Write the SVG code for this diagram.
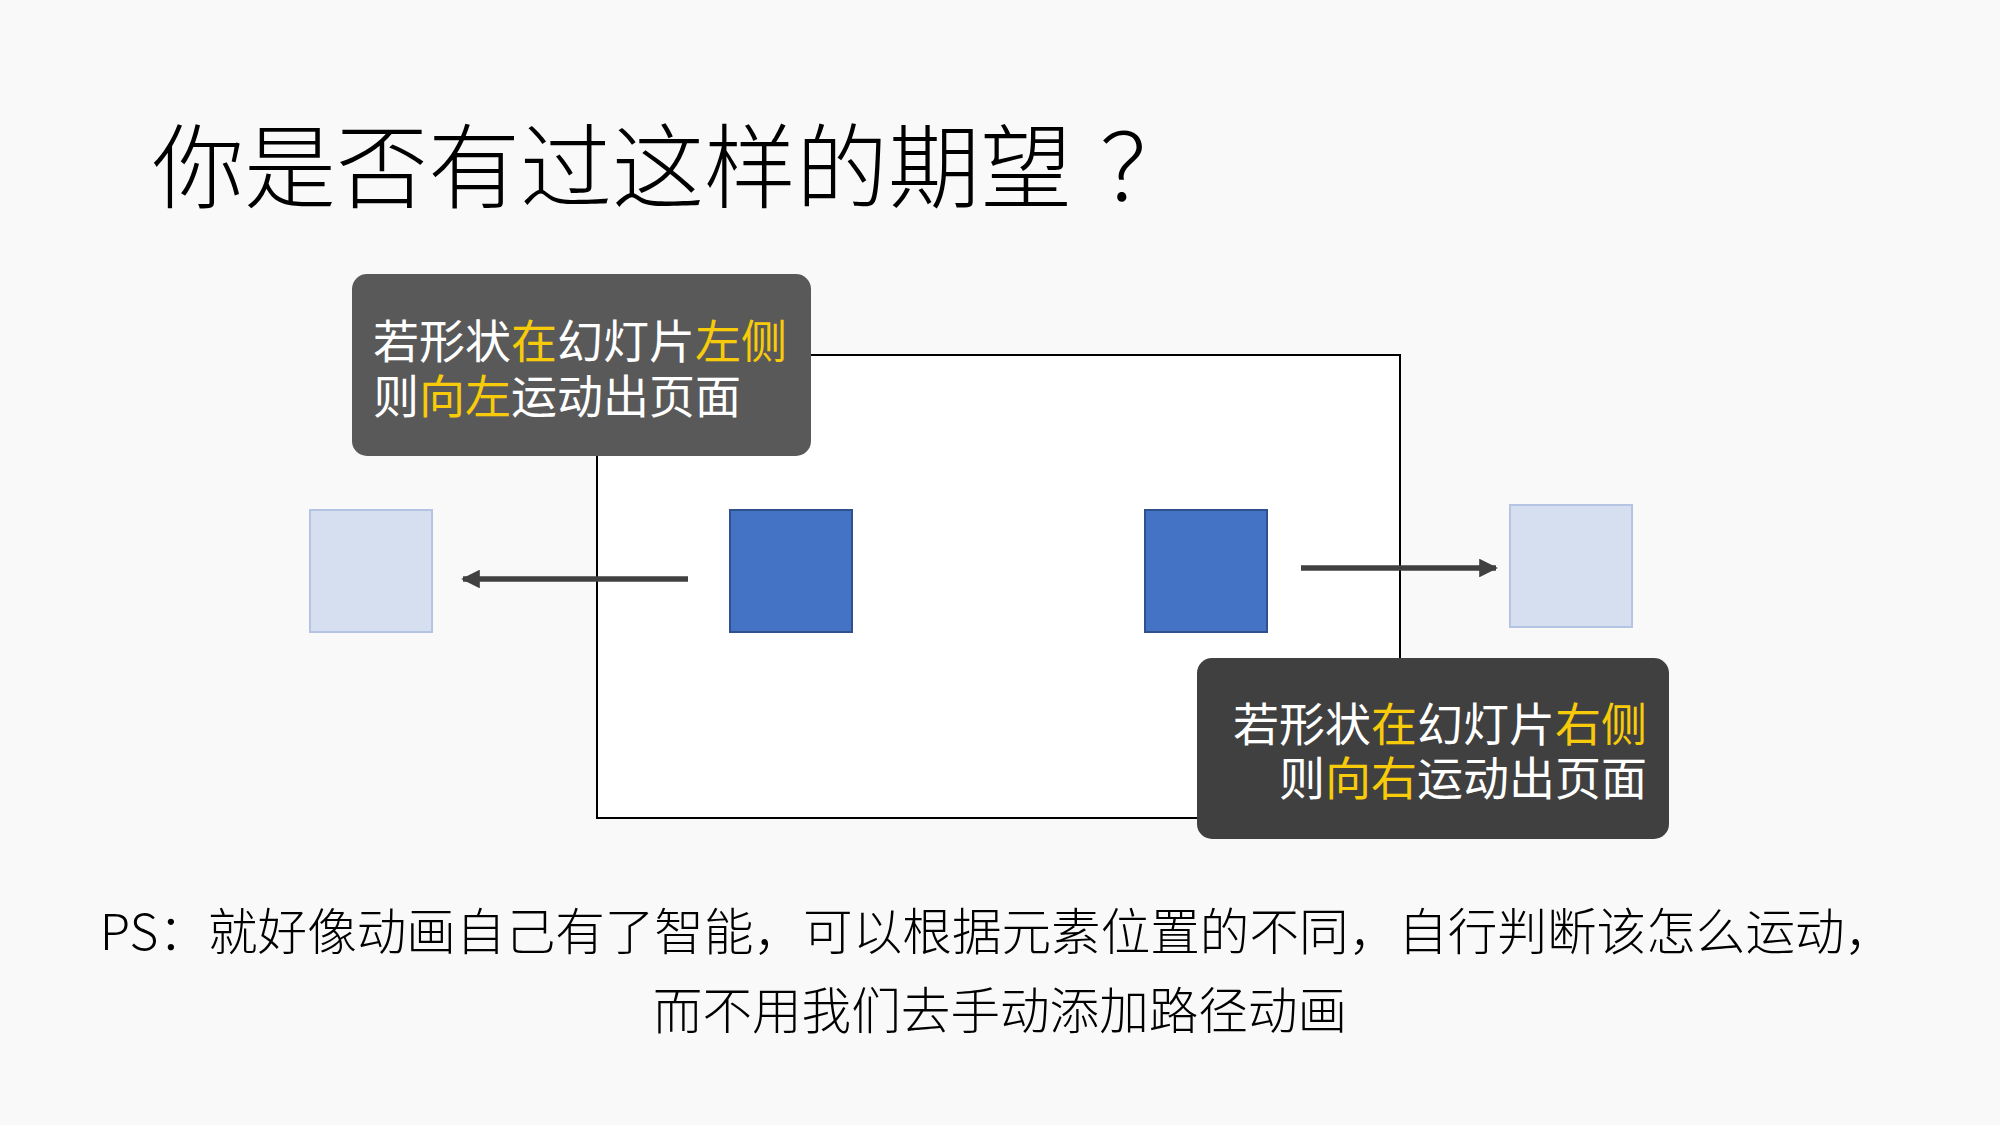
<svg xmlns="http://www.w3.org/2000/svg" width="2000" height="1125" viewBox="0 0 2000 1125">
  <style>
    text { font-family: "Noto Sans CJK SC", "Liberation Sans", sans-serif; }
    .title { font-size: 92px; font-weight: 300; fill: #000000; }
    .lbl { font-size: 46px; font-weight: 400; fill: #FFFFFF; }
    .hl { fill: #F7CB0A; }
    .note { font-size: 49.6px; font-weight: 300; fill: #000000; }
    .blue { fill: #4472C4; stroke: #2F528F; stroke-width: 2; }
    .ghost { fill: #D6DFF0; stroke: #B4C4E2; stroke-width: 2; }
    .arrow { stroke: #404040; stroke-width: 5.5; fill: none; }
  </style>
  <defs>
    <marker id="ah" viewBox="0 0 10 10" refX="9" refY="5" markerWidth="3.6" markerHeight="3.4" orient="auto" markerUnits="strokeWidth">
      <path d="M0,0 L10,5 L0,10 Z" fill="#404040"/>
    </marker>
  </defs>

  <rect x="0" y="0" width="2000" height="1125" fill="#F9F9F9"/>

  <g id="title">
    <text class="title" x="152" y="201">你是否有过这样的期望<tspan x="1146" text-anchor="middle">？</tspan></text>
  </g>

  <g id="slide">
    <rect x="597" y="355" width="803" height="463" fill="#FFFFFF" stroke="#000000" stroke-width="2"/>
  </g>

  <g id="ghost-left">
    <rect class="ghost" x="310" y="510" width="122" height="122"/>
  </g>
  <g id="shape-left">
    <rect class="blue" x="730" y="510" width="122" height="122"/>
  </g>
  <g id="shape-right">
    <rect class="blue" x="1145" y="510" width="122" height="122"/>
  </g>
  <g id="ghost-right">
    <rect class="ghost" x="1510" y="505" width="122" height="122"/>
  </g>

  <g id="connectors">
    <line class="arrow" x1="688" y1="579" x2="463" y2="579" marker-end="url(#ah)"/>
    <line class="arrow" x1="1301" y1="568" x2="1496" y2="568" marker-end="url(#ah)"/>
  </g>

  <g id="callout-left">
    <rect x="352" y="274" width="459" height="182" rx="15" ry="15" fill="#595959"/>
    <text class="lbl" x="373" y="358">若形状<tspan class="hl">在</tspan>幻灯片<tspan class="hl">左侧</tspan></text>
    <text class="lbl" x="373" y="413">则<tspan class="hl">向左</tspan>运动出页面</text>
  </g>

  <g id="callout-right">
    <rect x="1197" y="658" width="472" height="181" rx="15" ry="15" fill="#404040"/>
    <text class="lbl" x="1647" y="741" text-anchor="end">若形状<tspan class="hl">在</tspan>幻灯片<tspan class="hl">右侧</tspan></text>
    <text class="lbl" x="1647" y="795" text-anchor="end">则<tspan class="hl">向右</tspan>运动出页面</text>
  </g>

  <g id="note">
    <text class="note" x="997" y="950" text-anchor="middle">PS：就好像动画自己有了智能，可以根据元素位置的不同，自行判断该怎么运动，</text>
    <text class="note" x="1000" y="1029" text-anchor="middle">而不用我们去手动添加路径动画</text>
  </g>
</svg>
